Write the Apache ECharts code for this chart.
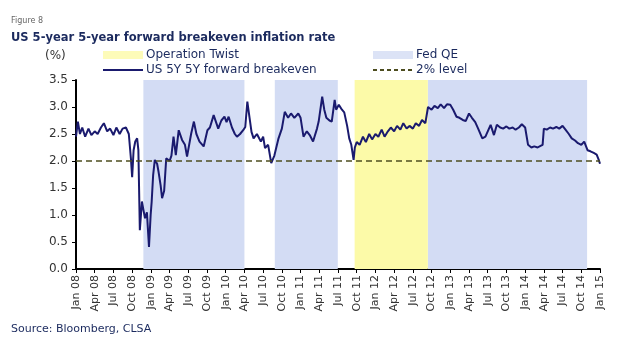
<!DOCTYPE html>
<html>
<head>
<meta charset="utf-8">
<script src="https://cdn.jsdelivr.net/npm/echarts@6/dist/echarts.min.js"></script>
<style>html,body{margin:0;padding:0;background:#fff}#c{width:640px;height:360px}</style>
</head>
<body>
<div id="c"></div>
<script>
// ---- data ----
const tickLabels = ['Jan 08','Apr 08','Jul 08','Oct 08','Jan 09','Apr 09','Jul 09','Oct 09','Jan 10','Apr 10','Jul 10','Oct 10','Jan 11','Apr 11','Jul 11','Oct 11','Jan 12','Apr 12','Jul 12','Oct 12','Jan 13','Apr 13','Jul 13','Oct 13','Jan 14','Apr 14','Jul 14','Oct 14','Jan 15'];
const dates = [
'2008-01-01','2008-01-10','2008-01-20','2008-02-01','2008-02-15','2008-03-01','2008-03-15','2008-04-01','2008-04-15','2008-05-01','2008-05-15','2008-06-01','2008-06-15','2008-07-01','2008-07-15','2008-08-01','2008-08-15','2008-09-01','2008-09-15','2008-09-25','2008-10-01','2008-10-08','2008-10-16','2008-10-25','2008-11-01','2008-11-08','2008-11-18','2008-11-25','2008-12-03','2008-12-12','2008-12-22','2008-12-30',
'2009-01-05','2009-01-12','2009-01-20','2009-02-01','2009-02-08','2009-02-18','2009-02-25','2009-03-05','2009-03-15','2009-04-01','2009-04-10','2009-04-20','2009-05-01','2009-05-15','2009-06-01','2009-06-15','2009-06-25','2009-07-15','2009-07-28','2009-08-10','2009-08-25','2009-09-15','2009-10-03','2009-10-15','2009-11-03','2009-11-25','2009-12-10','2009-12-25',
'2010-01-05','2010-01-15','2010-02-01','2010-02-15','2010-02-25','2010-03-10','2010-03-25','2010-04-05','2010-04-15','2010-04-22','2010-05-05','2010-05-15','2010-06-01','2010-06-20','2010-07-01','2010-07-10','2010-07-25','2010-08-10','2010-08-25','2010-09-15','2010-10-01','2010-10-15','2010-11-01','2010-11-15','2010-12-01','2010-12-20',
'2011-01-01','2011-01-15','2011-02-01','2011-02-15','2011-03-01','2011-03-20','2011-03-28','2011-04-15','2011-04-25','2011-05-05','2011-05-20','2011-06-01','2011-06-15','2011-06-22','2011-07-05','2011-07-20','2011-08-01','2011-08-15','2011-08-25','2011-09-05','2011-09-16','2011-09-22','2011-10-01','2011-10-15','2011-11-01','2011-11-15','2011-12-01','2011-12-15',
'2012-01-01','2012-01-15','2012-02-01','2012-02-15','2012-03-01','2012-03-15','2012-04-01','2012-04-15','2012-05-01','2012-05-15','2012-06-01','2012-06-15','2012-07-01','2012-07-15','2012-08-01','2012-08-15','2012-09-01','2012-09-14','2012-10-01','2012-10-15','2012-11-01','2012-11-15','2012-12-01','2012-12-15',
'2013-01-01','2013-01-15','2013-02-01','2013-02-15','2013-03-01','2013-03-15','2013-04-01','2013-04-15','2013-05-01','2013-05-15','2013-06-05','2013-06-20','2013-07-15','2013-08-01','2013-08-15','2013-09-01','2013-09-15','2013-10-01','2013-10-15','2013-11-01','2013-11-15','2013-12-01','2013-12-15',
'2014-01-01','2014-01-15','2014-02-01','2014-02-15','2014-03-01','2014-03-15','2014-03-25','2014-04-01','2014-04-15','2014-05-01','2014-05-15','2014-06-01','2014-06-15','2014-07-01','2014-07-15','2014-08-01','2014-08-15','2014-09-01','2014-09-15','2014-10-01','2014-10-15','2014-11-01','2014-11-15','2014-12-01','2014-12-15','2014-12-25',
'2015-01-01'];
const breakeven = [
2.45,2.73,2.50,2.62,2.45,2.60,2.48,2.55,2.50,2.62,2.70,2.55,2.60,2.48,2.62,2.50,2.60,2.62,2.50,2.05,1.70,2.20,2.36,2.42,2.20,0.72,1.25,1.10,0.94,1.05,0.41,1.00,
1.25,1.74,2.02,1.95,1.80,1.55,1.31,1.45,2.05,2.00,2.10,2.45,2.11,2.57,2.39,2.30,2.08,2.51,2.73,2.50,2.36,2.27,2.57,2.62,2.85,2.60,2.75,2.82,
2.72,2.82,2.62,2.50,2.45,2.50,2.57,2.63,3.10,2.90,2.54,2.42,2.50,2.36,2.45,2.24,2.30,1.96,2.10,2.42,2.60,2.91,2.80,2.88,2.80,2.88,
2.80,2.45,2.55,2.48,2.36,2.60,2.73,3.19,2.95,2.80,2.75,2.73,3.13,2.95,3.04,2.95,2.90,2.65,2.42,2.30,2.02,2.25,2.35,2.30,2.45,2.35,2.50,2.40,
2.50,2.45,2.58,2.45,2.55,2.62,2.55,2.65,2.58,2.70,2.60,2.65,2.60,2.70,2.65,2.76,2.70,3.00,2.95,3.02,2.98,3.05,2.98,3.05,
3.04,2.95,2.82,2.80,2.76,2.74,2.88,2.80,2.72,2.60,2.42,2.45,2.67,2.48,2.67,2.62,2.60,2.64,2.60,2.62,2.58,2.62,2.68,
2.62,2.30,2.25,2.27,2.25,2.28,2.30,2.60,2.58,2.62,2.60,2.63,2.60,2.65,2.58,2.50,2.42,2.38,2.33,2.30,2.36,2.20,2.18,2.15,2.12,2.02,
1.95];
const qePeriods = [['2008-11-25','2010-03-31'],['2010-08-27','2011-06-30'],['2012-09-13','2014-10-29']];
const twistPeriod = [['2011-09-21','2012-09-13']];
const levelValue = 2;

// months since Jan 2008
function m(d){const p=d.split('-').map(Number);return (p[0]-2008)*12+(p[1]-1)+(p[2]-1)/30;}

const navy = '#1b2a5e';
const font = 'DejaVu Sans';
const chart = echarts.init(document.getElementById('c'));
chart.setOption({
  animation:false,
  textStyle:{fontFamily:font},
  title:[
    {text:'Figure 8',left:6,top:12,textStyle:{fontSize:8,fontWeight:'normal',color:'#666',fontFamily:font}},
    {text:'US 5-year 5-year forward breakeven inflation rate',left:6,top:27,textStyle:{fontSize:11.5,fontWeight:'bold',color:navy,fontFamily:font}},
    {text:'(%)',left:40,top:45,textStyle:{fontSize:12,fontWeight:'normal',color:'#333',fontFamily:font}},
    {text:'Source: Bloomberg, CLSA',left:6,top:319,textStyle:{fontSize:11,fontWeight:'normal',color:navy,fontFamily:font}}
  ],
  legend:[
    {left:97,top:44,orient:'vertical',itemWidth:40,itemHeight:8,itemGap:3,
     textStyle:{fontSize:12,color:navy,fontFamily:font,padding:[0,0,0,-2]},
     data:[{name:'Operation Twist',icon:'rect'},{name:'US 5Y 5Y forward breakeven',itemStyle:{opacity:0}}]},
    {left:367,top:44,orient:'vertical',itemWidth:40,itemHeight:8,itemGap:3,
     textStyle:{fontSize:12,color:navy,fontFamily:font,padding:[0,0,0,-2]},
     data:[{name:'Fed QE',icon:'rect'},{name:'2% level',itemStyle:{opacity:0}}]}
  ],
  grid:{left:76,right:40,top:80,bottom:91},
  xAxis:{type:'value',min:0,max:84,interval:3,
    axisLine:{lineStyle:{color:'#000',width:2}},
    axisTick:{length:4,lineStyle:{color:'#000'}},
    splitLine:{show:false},
    axisLabel:{rotate:90,fontSize:11,color:'#333',margin:6,formatter:v=>tickLabels[Math.round(v/3)]}},
  yAxis:{type:'value',min:0,max:3.5,interval:0.5,
    axisLine:{show:true,lineStyle:{color:'#000',width:2}},
    axisTick:{show:true,length:4,lineStyle:{color:'#000'}},
    splitLine:{show:false},
    axisLabel:{fontSize:12,color:'#333',margin:8,formatter:v=>v.toFixed(1)}},
  series:[
    {name:'Fed QE',type:'scatter',data:[],itemStyle:{color:'#d3dcf4'},
     markArea:{silent:true,itemStyle:{color:'#d3dcf4'},data:qePeriods.map(p=>[{xAxis:m(p[0])},{xAxis:m(p[1])}])}},
    {name:'Operation Twist',type:'scatter',data:[],itemStyle:{color:'#fcfaa8'},
     markArea:{silent:true,itemStyle:{color:'#fcfaa8'},data:twistPeriod.map(p=>[{xAxis:m(p[0])},{xAxis:m(p[1])}])}},
    {name:'2% level',type:'line',data:[],symbol:'none',itemStyle:{color:'#4d4d1f'},
     lineStyle:{color:'#4d4d1f',width:1.5,type:[4,3]},
     markLine:{silent:true,symbol:'none',label:{show:false},lineStyle:{color:'#4d4d1f',width:1.5,type:[6,4]},data:[{yAxis:levelValue}]},z:3},
    {name:'US 5Y 5Y forward breakeven',type:'line',symbol:'none',z:4,
     itemStyle:{color:'#1a1a6e'},lineStyle:{color:'#1a1a6e',width:2},
     data:dates.map((d,i)=>[m(d),breakeven[i]])}
  ]
});
</script>
</body>
</html>
